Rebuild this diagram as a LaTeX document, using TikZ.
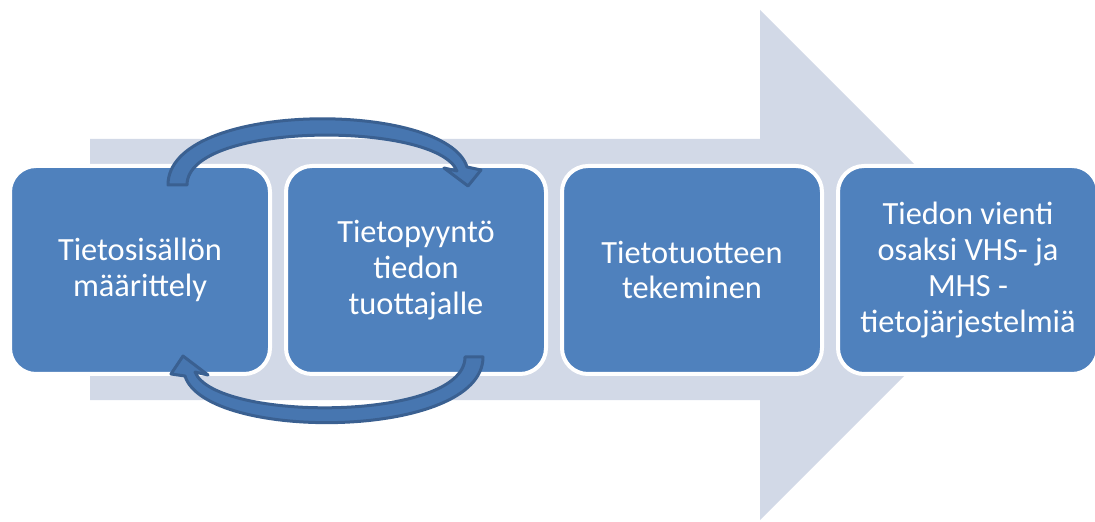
\documentclass[tikz,border=0pt]{standalone}
\usepackage{fontspec}
\setmainfont{Carlito}
\definecolor{bigarrow}{HTML}{D2D9E7}
\definecolor{boxblue}{HTML}{4F81BD}
\definecolor{cfill}{HTML}{4776B0}
\definecolor{cline}{HTML}{3A6091}
\tikzset{
  stepbox/.style={draw=white, line width=4bp, fill=boxblue, rounded corners=26bp},
  steptext/.style={text=white, align=center, font=\fontsize{32.5}{36}\selectfont},
  curvearrow/.style={fill=cfill, draw=cline, line width=3bp, line join=round}
}
\begin{document}
\begin{tikzpicture}[x=1bp,y=-1bp]
\useasboundingbox (0,0) rectangle (1095,522);
% big background arrow
\fill[bigarrow] (90,139) -- (760,139) -- (760,10) -- (1015,265) -- (760,520) -- (760,400) -- (90,400) -- cycle;
% boxes
\draw[stepbox] (10,166) rectangle (270,374);
\draw[stepbox] (286,166) rectangle (546,374);
\draw[stepbox] (562,166) rectangle (822,374);
\draw[stepbox] (838,166) rectangle (1098,374);
\node[steptext] (b1) at (140,270) {Tietosisällön\\määrittely};
\node[steptext] (b2) at (416,270) {Tietopyyntö\\tiedon\\tuottajalle};
\node[steptext] (b3) at (692,270) {Tietotuotteen\\tekeminen};
\node[steptext] (b4) at (968,270) {Tiedon vienti\\osaksi VHS- ja\\MHS -\\tietojärjestelmiä};
% curved arrows
\draw[curvearrow] (168,185) .. controls (168,100) and (446,100) .. (467,167) -- (481,170) -- (468,186) -- (444,168) -- (457,171) .. controls (437,121) and (187,121) .. (187,185) -- cycle;
\draw[curvearrow] (465,357) -- (483,357) .. controls (483,440) and (206,442) .. (185,376) -- (171,374) -- (183,356) -- (208,375) -- (195,372) .. controls (215,422) and (465,422) .. (465,357) -- cycle;
\end{tikzpicture}
\end{document}
